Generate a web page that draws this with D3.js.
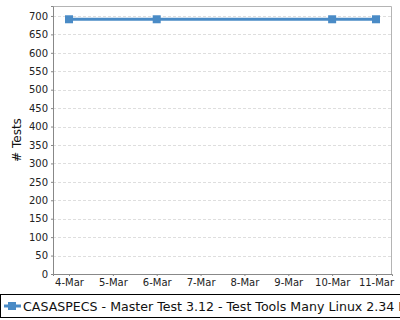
<!DOCTYPE html>
<html>
<head>
<meta charset="utf-8">
<script src="https://cdn.jsdelivr.net/npm/d3@7"></script>
<style>
  body { margin: 0; background: #fff; }
  svg { display: block; font-family: "DejaVu Sans", sans-serif; }
</style>
</head>
<body>
<div id="chart"></div>
<script>
// chart data
var days = ["4-Mar", "5-Mar", "6-Mar", "7-Mar", "8-Mar", "9-Mar", "10-Mar", "11-Mar"];
var runDays = ["4-Mar", "6-Mar", "10-Mar", "11-Mar"];
var testCounts = [691, 691, 691, 691];
var yTicks = [0, 50, 100, 150, 200, 250, 300, 350, 400, 450, 500, 550, 600, 650, 700];
var seriesName = "CASASPECS - Master Test 3.12 - Test Tools Many Linux 2.34 Full";

var svgWidth = 400;
var svgHeight = 320;
var color = "#4a8bc6";

var svg = d3.select("#chart").append("svg")
    .attr("width", svgWidth)
    .attr("height", svgHeight);

var margin = { top: 6, left: 53, right: 8, bottom: 46 };
var width = svgWidth - margin.left - margin.right;
var height = svgHeight - margin.top - margin.bottom;

var x = d3.scalePoint().domain(days).range([0, width]).padding(0.365);
var y = d3.scaleLinear().domain([0, 727]).range([height, 0]);

var g = svg.append("g")
    .attr("transform", `translate(${margin.left},${margin.top})`);

// grid lines
g.selectAll(".grid").data(yTicks.slice(1))
  .enter().append("line")
    .attr("x1", 0).attr("x2", width)
    .attr("y1", d => Math.round(y(d)) + 0.5)
    .attr("y2", d => Math.round(y(d)) + 0.5)
    .attr("stroke", "#dedede")
    .attr("stroke-dasharray", "3,2");

// plot outline (top/right)
g.append("path")
    .attr("d", `M0.5,0.5H${width - 0.5}V${height}`)
    .attr("fill", "none")
    .attr("stroke", "#b4b4b4");

// axes
var leftAxis = d3.axisLeft(y).tickValues(yTicks).tickSize(2).tickPadding(3);
var bottomAxis = d3.axisBottom(x).tickSize(2).tickPadding(3);

var leftG = g.append("g").call(leftAxis);
var bottomG = g.append("g").attr("transform", `translate(0,${height})`).call(bottomAxis);

[leftG, bottomG].forEach(a => {
  a.select(".domain").attr("stroke", "#888");
  a.selectAll(".tick line").attr("stroke", "#888");
  a.selectAll(".tick text").attr("fill", "#222").attr("font-size", 10)
    .attr("font-family", "DejaVu Sans, sans-serif");
});

g.append("text")
    .attr("transform", "rotate(-90)")
    .attr("x", -height / 2)
    .attr("y", -32)
    .attr("text-anchor", "middle")
    .attr("font-size", 12)
    .attr("fill", "#111")
    .text("# Tests");

// series line
var points = runDays.map((d, i) => ({ day: d, value: testCounts[i] }));
var line = d3.line().x(d => x(d.day)).y(d => y(d.value));

g.append("path")
    .datum(points)
    .attr("d", line)
    .attr("fill", "none")
    .attr("stroke", color)
    .attr("stroke-width", 3);

g.selectAll(".pt").data(points)
  .enter().append("rect")
    .attr("x", d => x(d.day) - 4)
    .attr("y", d => y(d.value) - 4)
    .attr("width", 8)
    .attr("height", 8)
    .attr("fill", color);

// legend (the reference cuts it off at the right edge)
var legend = svg.append("g");
legend.append("rect")
    .attr("x", 0.5).attr("y", 294.5)
    .attr("width", 420).attr("height", 23)
    .attr("fill", "#fff")
    .attr("stroke", "#000");
legend.append("line")
    .attr("x1", 4).attr("x2", 21)
    .attr("y1", 306).attr("y2", 306)
    .attr("stroke", color).attr("stroke-width", 3);
legend.append("rect")
    .attr("x", 8).attr("y", 302).attr("width", 8).attr("height", 8)
    .attr("fill", color);
legend.append("text")
    .attr("x", 23).attr("y", 311)
    .attr("font-size", 12.6)
    .attr("fill", "#111")
    .text(seriesName);
</script>
</body>
</html>
